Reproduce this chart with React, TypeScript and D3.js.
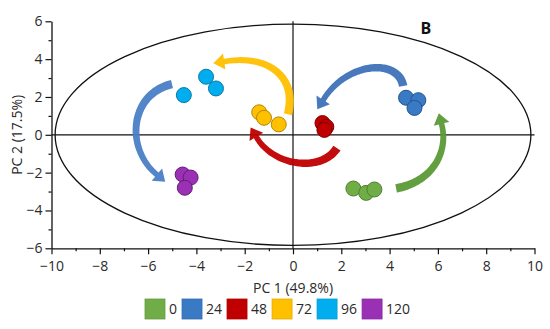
import { useEffect, useRef } from "react";
import * as d3 from "d3";

// groups (hours) and their colours
const groups = ["0", "24", "48", "72", "96", "120"];
const fills = ["#70ad47", "#3a79c4", "#c00000", "#ffc000", "#00aeef", "#9a30b4"];
const strokes = ["#4f7f30", "#255590", "#800000", "#b58600", "#0a78a8", "#651c78"];

// PCA scores, three replicates per group
const pc1 = [
  [2.5, 3.03, 3.37],
  [4.68, 5.19, 5.03],
  [1.22, 1.38, 1.3],
  [-1.4, -1.2, -0.59],
  [-4.52, -3.6, -3.19],
  [-4.57, -4.24, -4.48],
];
const pc2 = [
  [-2.84, -3.07, -2.89],
  [1.96, 1.83, 1.42],
  [0.62, 0.42, 0.26],
  [1.19, 0.9, 0.55],
  [2.1, 3.07, 2.45],
  [-2.1, -2.26, -2.8],
];

const xTicks = [-10, -8, -6, -4, -2, 0, 2, 4, 6, 8, 10];
const yTicks = [-6, -4, -2, 0, 2, 4, 6];

// curved arrows between groups: colour + cubic control points in PC units
const arrowColors = ["#5b9a36", "#3d72b8", "#c00000", "#ffc000", "#4a80c5"];
const arrowCtrl: [number, number][][] = [
  [[4.27, -2.83], [6.09, -2.41], [6.59, -0.28], [5.97, 1.14]],
  [[4.56, 2.58], [4.35, 4.17], [1.86, 3.84], [1.04, 1.31]],
  [[1.82, -0.7], [1.12, -2.13], [-1.28, -1.6], [-1.7, 0.46]],
  [[-0.21, 1.09], [0.21, 3.15], [-1.16, 4.48], [-3.32, 3.74]],
  [[-5.01, 2.68], [-6.96, 2.1], [-6.96, -1.33], [-5.22, -2.45]],
];

function arrowShape(p: [number, number][], w0: number, w1: number, headW: number, headL: number) {
  const bez = (t: number): [number, number] => {
    const u = 1 - t;
    return [
      u * u * u * p[0][0] + 3 * u * u * t * p[1][0] + 3 * u * t * t * p[2][0] + t * t * t * p[3][0],
      u * u * u * p[0][1] + 3 * u * u * t * p[1][1] + 3 * u * t * t * p[2][1] + t * t * t * p[3][1],
    ];
  };
  const N = 80;
  const pts = d3.range(N + 1).map((i) => bez(i / N));
  const cum = [0];
  for (let i = 1; i <= N; i++) {
    cum.push(cum[i - 1] + Math.hypot(pts[i][0] - pts[i - 1][0], pts[i][1] - pts[i - 1][1]));
  }
  const total = cum[N];
  const bodyL = total - headL;
  const left: [number, number][] = [];
  const right: [number, number][] = [];
  let last = 0;
  for (let i = 0; i <= N && cum[i] <= bodyL; i++) {
    const a = pts[Math.max(0, i - 1)];
    const b = pts[Math.min(N, i + 1)];
    const dx = b[0] - a[0];
    const dy = b[1] - a[1];
    const len = Math.hypot(dx, dy) || 1;
    const nx = -dy / len;
    const ny = dx / len;
    const w = (w0 + (w1 - w0) * (cum[i] / bodyL)) / 2;
    left.push([pts[i][0] + nx * w, pts[i][1] + ny * w]);
    right.push([pts[i][0] - nx * w, pts[i][1] - ny * w]);
    last = i;
  }
  const base = pts[last];
  const prev = pts[Math.max(0, last - 2)];
  const dl = Math.hypot(base[0] - prev[0], base[1] - prev[1]) || 1;
  const dx = (base[0] - prev[0]) / dl;
  const dy = (base[1] - prev[1]) / dl;
  const nx = -dy;
  const ny = dx;
  const tip: [number, number] = [base[0] + dx * headL, base[1] + dy * headL];
  const poly = [
    ...left,
    [base[0] + nx * headW / 2, base[1] + ny * headW / 2] as [number, number],
    tip,
    [base[0] - nx * headW / 2, base[1] - ny * headW / 2] as [number, number],
    ...right.reverse(),
  ];
  return "M" + poly.map((q) => q[0].toFixed(1) + "," + q[1].toFixed(1)).join("L") + "Z";
}

export default function App() {
  const svgRef = useRef<SVGSVGElement>(null);

  useEffect(() => {
    if (!svgRef.current) return;
    const svg = d3.select(svgRef.current);
    svg.selectAll("*").remove();

    const font = "'Open Sans', 'Noto Sans', sans-serif";
    const x = d3.scaleLinear().domain([-10, 10]).range([51.5, 534.5]);
    const y = d3.scaleLinear().domain([-6, 6]).range([248.3, 21.3]);

    // ellipse (confidence)
    svg
      .append("ellipse")
      .attr("cx", x(0))
      .attr("cy", y(0))
      .attr("rx", x(9.85) - x(0))
      .attr("ry", y(0) - y(5.85))
      .attr("fill", "none")
      .attr("stroke", "#111")
      .attr("stroke-width", 1.3);

    // zero lines
    svg
      .append("line")
      .attr("x1", x(-10))
      .attr("x2", x(10))
      .attr("y1", y(0))
      .attr("y2", y(0))
      .attr("stroke", "#111")
      .attr("stroke-width", 1.2);
    svg
      .append("line")
      .attr("x1", x(0))
      .attr("x2", x(0))
      .attr("y1", y(6))
      .attr("y2", y(-6))
      .attr("stroke", "#111")
      .attr("stroke-width", 1.2);

    // axes
    const xAxis = svg.append("g").attr("transform", `translate(0,${y(-6)})`);
    xAxis.call(d3.axisBottom(x).tickValues(xTicks).tickSize(6).tickSizeOuter(0));
    xAxis
      .append("g")
      .call(d3.axisBottom(x).tickValues(d3.range(-9, 10, 2)).tickSize(3).tickFormat(() => ""))
      .call((g) => g.select(".domain").remove());
    const yAxis = svg.append("g").attr("transform", `translate(${x(-10)},0)`);
    yAxis.call(d3.axisLeft(y).tickValues(yTicks).tickSize(6).tickSizeOuter(0));
    yAxis
      .append("g")
      .call(d3.axisLeft(y).tickValues(d3.range(-5, 6, 2)).tickSize(3).tickFormat(() => ""))
      .call((g) => g.select(".domain").remove());
    svg.selectAll(".domain").attr("stroke", "#111").attr("stroke-width", 1.3);
    svg.selectAll(".tick line").attr("stroke", "#111").attr("stroke-width", 1.2);
    svg
      .selectAll(".tick text")
      .attr("font-family", font)
      .attr("font-size", 14)
      .attr("fill", "#2a2a2a");
    xAxis.selectAll(".tick text").attr("dy", "1.0em");

    // arrows
    arrowCtrl.forEach((c, i) => {
      const px = c.map((q) => [x(q[0]), y(q[1])] as [number, number]);
      svg
        .append("path")
        .attr("d", arrowShape(px, 8.5, 5.5, 16, 11))
        .attr("fill", arrowColors[i])
        .attr("opacity", 0.95);
    });

    // points
    groups.forEach((g, gi) => {
      svg
        .append("g")
        .selectAll("circle")
        .data(d3.range(pc1[gi].length))
        .join("circle")
        .attr("cx", (j) => x(pc1[gi][j]))
        .attr("cy", (j) => y(pc2[gi][j]))
        .attr("r", 7.5)
        .attr("fill", fills[gi])
        .attr("stroke", strokes[gi])
        .attr("stroke-width", 1);
    });

    // panel letter
    svg
      .append("text")
      .attr("x", x(5.5))
      .attr("y", y(5.35))
      .attr("text-anchor", "middle")
      .attr("font-family", font)
      .attr("font-weight", "bold")
      .attr("font-size", 16)
      .attr("fill", "#111")
      .text("B");

    // axis titles
    svg
      .append("text")
      .attr("x", x(0))
      .attr("y", 293)
      .attr("text-anchor", "middle")
      .attr("font-family", font)
      .attr("font-size", 14)
      .attr("fill", "#2a2a2a")
      .text("PC 1 (49.8%)");
    svg
      .append("text")
      .attr("transform", `translate(22,${y(0)}) rotate(-90)`)
      .attr("text-anchor", "middle")
      .attr("font-family", font)
      .attr("font-size", 14)
      .attr("fill", "#2a2a2a")
      .text("PC 2 (17.5%)");

    // legend
    let lx = 145;
    const leg = svg.append("g");
    groups.forEach((g, gi) => {
      leg
        .append("rect")
        .attr("x", lx)
        .attr("y", 299)
        .attr("width", 20)
        .attr("height", 20)
        .attr("fill", fills[gi])
        .attr("stroke", d3.color(fills[gi])!.darker(0.3).toString())
        .attr("stroke-width", 0.8);
      const t = leg
        .append("text")
        .attr("x", lx + 24)
        .attr("y", 314)
        .attr("font-family", font)
        .attr("font-size", 14)
        .attr("fill", "#2a2a2a")
        .text(g);
      const tw = (t.node() as SVGTextElement).getComputedTextLength();
      lx += 24 + tw + 5;
    });
  }, []);

  return (
    <svg
      ref={svgRef}
      width={550}
      height={329}
      style={{ position: "absolute", left: 0, top: 0, background: "#fff" }}
    />
  );
}
